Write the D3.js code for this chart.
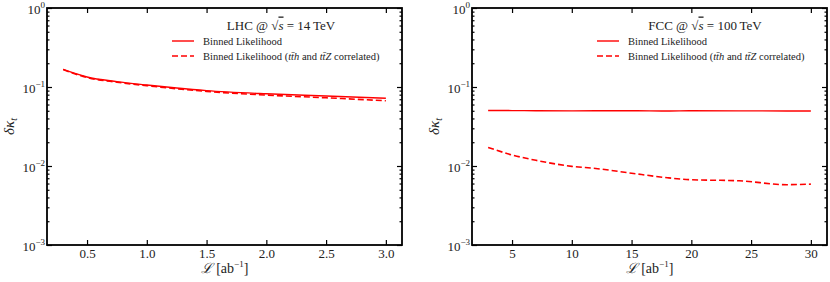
<!DOCTYPE html>
<html>
<head>
<meta charset="utf-8">
<script src="https://cdn.jsdelivr.net/npm/d3@7"></script>
<style>
  body { margin: 0; background: #fff; }
  svg text { font-family: "Liberation Serif", "DejaVu Serif", serif; fill: #222; }
</style>
</head>
<body>
<div id="chart"></div>
<script>
// LHC @ 14 TeV
const lhcLumi = [0.3, 0.5, 0.75, 1.0, 1.25, 1.5, 2.0, 2.5, 3.0];
const lhcBinned = [0.167, 0.134, 0.117, 0.106, 0.097, 0.090, 0.082, 0.077, 0.072];
const lhcCorrelated = [0.166, 0.132, 0.115, 0.104, 0.095, 0.088, 0.079, 0.073, 0.067];

// FCC @ 100 TeV
const fccLumi = [3, 5, 7, 10, 12, 15, 18, 20, 24, 28, 30];
const fccBinned = [0.0505, 0.0503, 0.0501, 0.0499, 0.0500, 0.0500, 0.0497, 0.0500, 0.0499, 0.0497, 0.0496];
const fccCorrelated = [0.0172, 0.0138, 0.0118, 0.0099, 0.0093, 0.0081, 0.0071, 0.0067, 0.0065, 0.0058, 0.0059];

const lhcTicks = [0.5, 1.0, 1.5, 2.0, 2.5, 3.0];
const fccTicks = [5, 10, 15, 20, 25, 30];
const yTicks = [1e-3, 1e-2, 1e-1, 1];

const width = 830, height = 282;
const plotTop = 8, plotBottom = 245;
const serif = "Liberation Serif, DejaVu Serif, serif";

const svg = d3.select("#chart").append("svg")
    .attr("width", width)
    .attr("height", height)
    .attr("font-family", serif);

const yScale = d3.scaleLog().domain([1e-3, 1]).range([plotBottom, plotTop]);

const minorTicks = [];
[-3, -2, -1].forEach(e => {
    for (let k = 2; k <= 9; k++) minorTicks.push(k * Math.pow(10, e));
});

function supLabel(sel, base, exp) {
    sel.text(null);
    sel.append("tspan").text(base);
    sel.append("tspan").attr("dy", -6).style("font-size", "9px").text(exp);
}

function drawPanel(p) {
    const xScale = d3.scaleLinear().domain(p.xDomain).range([p.left, p.right]);
    const g = svg.append("g");

    // bottom axis
    g.append("g")
        .attr("transform", `translate(0,${plotBottom})`)
        .call(d3.axisBottom(xScale).tickValues(p.ticks).tickSize(-5).tickPadding(4)
            .tickFormat(d3.format(p.fmt)))
        .attr("font-family", serif)
        .call(a => a.select(".domain").remove())
        .call(a => a.selectAll("text").style("font-size", "13px"));
    // top axis
    g.append("g")
        .attr("transform", `translate(0,${plotTop})`)
        .call(d3.axisTop(xScale).tickValues(p.ticks).tickSize(-5).tickFormat(""))
        .call(a => a.select(".domain").remove());

    // left axis
    g.append("g")
        .attr("transform", `translate(${p.left},0)`)
        .call(d3.axisLeft(yScale).tickValues(yTicks).tickSize(-5).tickPadding(2).tickFormat(""))
        .attr("font-family", serif)
        .call(a => a.select(".domain").remove())
        .call(a => a.selectAll("text")
            .style("font-size", "13px")
            .attr("dy", "0.45em")
            .each(function(d) {
                supLabel(d3.select(this), "10", d3.format("d")(Math.log10(d)).replace("-", "\u2212"));
            }));
    g.append("g")
        .attr("transform", `translate(${p.left},0)`)
        .call(d3.axisLeft(yScale).tickValues(minorTicks).tickSize(-2.5).tickFormat(""))
        .call(a => a.select(".domain").remove());
    // right axis
    g.append("g")
        .attr("transform", `translate(${p.right},0)`)
        .call(d3.axisRight(yScale).tickValues(yTicks).tickSize(-5).tickFormat(""))
        .call(a => a.select(".domain").remove());
    g.append("g")
        .attr("transform", `translate(${p.right},0)`)
        .call(d3.axisRight(yScale).tickValues(minorTicks).tickSize(-2.5).tickFormat(""))
        .call(a => a.select(".domain").remove());

    g.selectAll(".tick line").attr("stroke", "#000").attr("stroke-width", 1.2);

    // frame
    g.append("rect")
        .attr("x", p.left).attr("y", plotTop)
        .attr("width", p.right - p.left).attr("height", plotBottom - plotTop)
        .attr("fill", "none").attr("stroke", "#000").attr("stroke-width", 1.8);

    const line = d3.line()
        .x(d => xScale(d[0]))
        .y(d => yScale(d[1]))
        .curve(d3.curveMonotoneX);

    g.append("path")
        .datum(d3.zip(p.x, p.solid))
        .attr("d", line)
        .attr("fill", "none").attr("stroke", "#ff0000").attr("stroke-width", 1.4);
    g.append("path")
        .datum(d3.zip(p.x, p.dashed))
        .attr("d", line)
        .attr("fill", "none").attr("stroke", "#ff0000").attr("stroke-width", 1.6)
        .attr("stroke-dasharray", "6,3");

    // axis labels
    const xl = g.append("text")
        .attr("x", (p.left + p.right) / 2).attr("y", 273)
        .attr("text-anchor", "middle").style("font-size", "14px");
    xl.append("tspan").style("font-style", "italic").text("\u2112");
    xl.append("tspan").text(" [ab");
    xl.append("tspan").attr("dy", -6).style("font-size", "9px").text("\u22121");
    xl.append("tspan").attr("dy", 6).text("]");

    const yl = g.append("text")
        .attr("transform", `translate(${p.left - 33},${(plotTop + plotBottom) / 2}) rotate(-90)`)
        .attr("text-anchor", "middle").style("font-size", "15px");
    yl.append("tspan").style("font-style", "italic").text("\u03b4\u03ba");
    yl.append("tspan").attr("dy", 3).style("font-size", "10px").style("font-style", "italic").text("t");

    // title
    const tt = g.append("text")
        .attr("x", p.titleX).attr("y", 29.5)
        .attr("text-anchor", "middle").style("font-size", "13px");
    tt.append("tspan").text(p.collider + " @ \u221a");
    tt.append("tspan").style("font-style", "italic").style("text-decoration", "overline").text("s");
    tt.append("tspan").text(" = " + p.energy + "\u2009TeV");

    // legend
    const lx = p.legendX;
    g.append("line").attr("x1", lx).attr("x2", lx + 22).attr("y1", 41).attr("y2", 41)
        .attr("stroke", "#ff0000").attr("stroke-width", 1.4);
    g.append("line").attr("x1", lx).attr("x2", lx + 22).attr("y1", 56).attr("y2", 56)
        .attr("stroke", "#ff0000").attr("stroke-width", 1.6).attr("stroke-dasharray", "6,3");
    g.append("text").attr("x", lx + 31).attr("y", 44.5).style("font-size", "10.5px")
        .text("Binned Likelihood");
    const l2 = g.append("text").attr("x", lx + 31).attr("y", 59.5).style("font-size", "10.5px");
    l2.append("tspan").text("Binned Likelihood (");
    l2.append("tspan").style("font-style", "italic").text("t\u0074\u0304h");
    l2.append("tspan").text(" and ");
    l2.append("tspan").style("font-style", "italic").text("t\u0074\u0304Z");
    l2.append("tspan").text(" correlated)");
}

drawPanel({
    left: 47, right: 402, xDomain: [0.165, 3.135], ticks: lhcTicks, fmt: ".1f",
    x: lhcLumi, solid: lhcBinned, dashed: lhcCorrelated,
    collider: "LHC", energy: "14", titleX: 281, legendX: 172
});
drawPanel({
    left: 472, right: 827, xDomain: [1.65, 31.35], ticks: fccTicks, fmt: "d",
    x: fccLumi, solid: fccBinned, dashed: fccCorrelated,
    collider: "FCC", energy: "100", titleX: 705, legendX: 597
});
</script>
</body>
</html>
